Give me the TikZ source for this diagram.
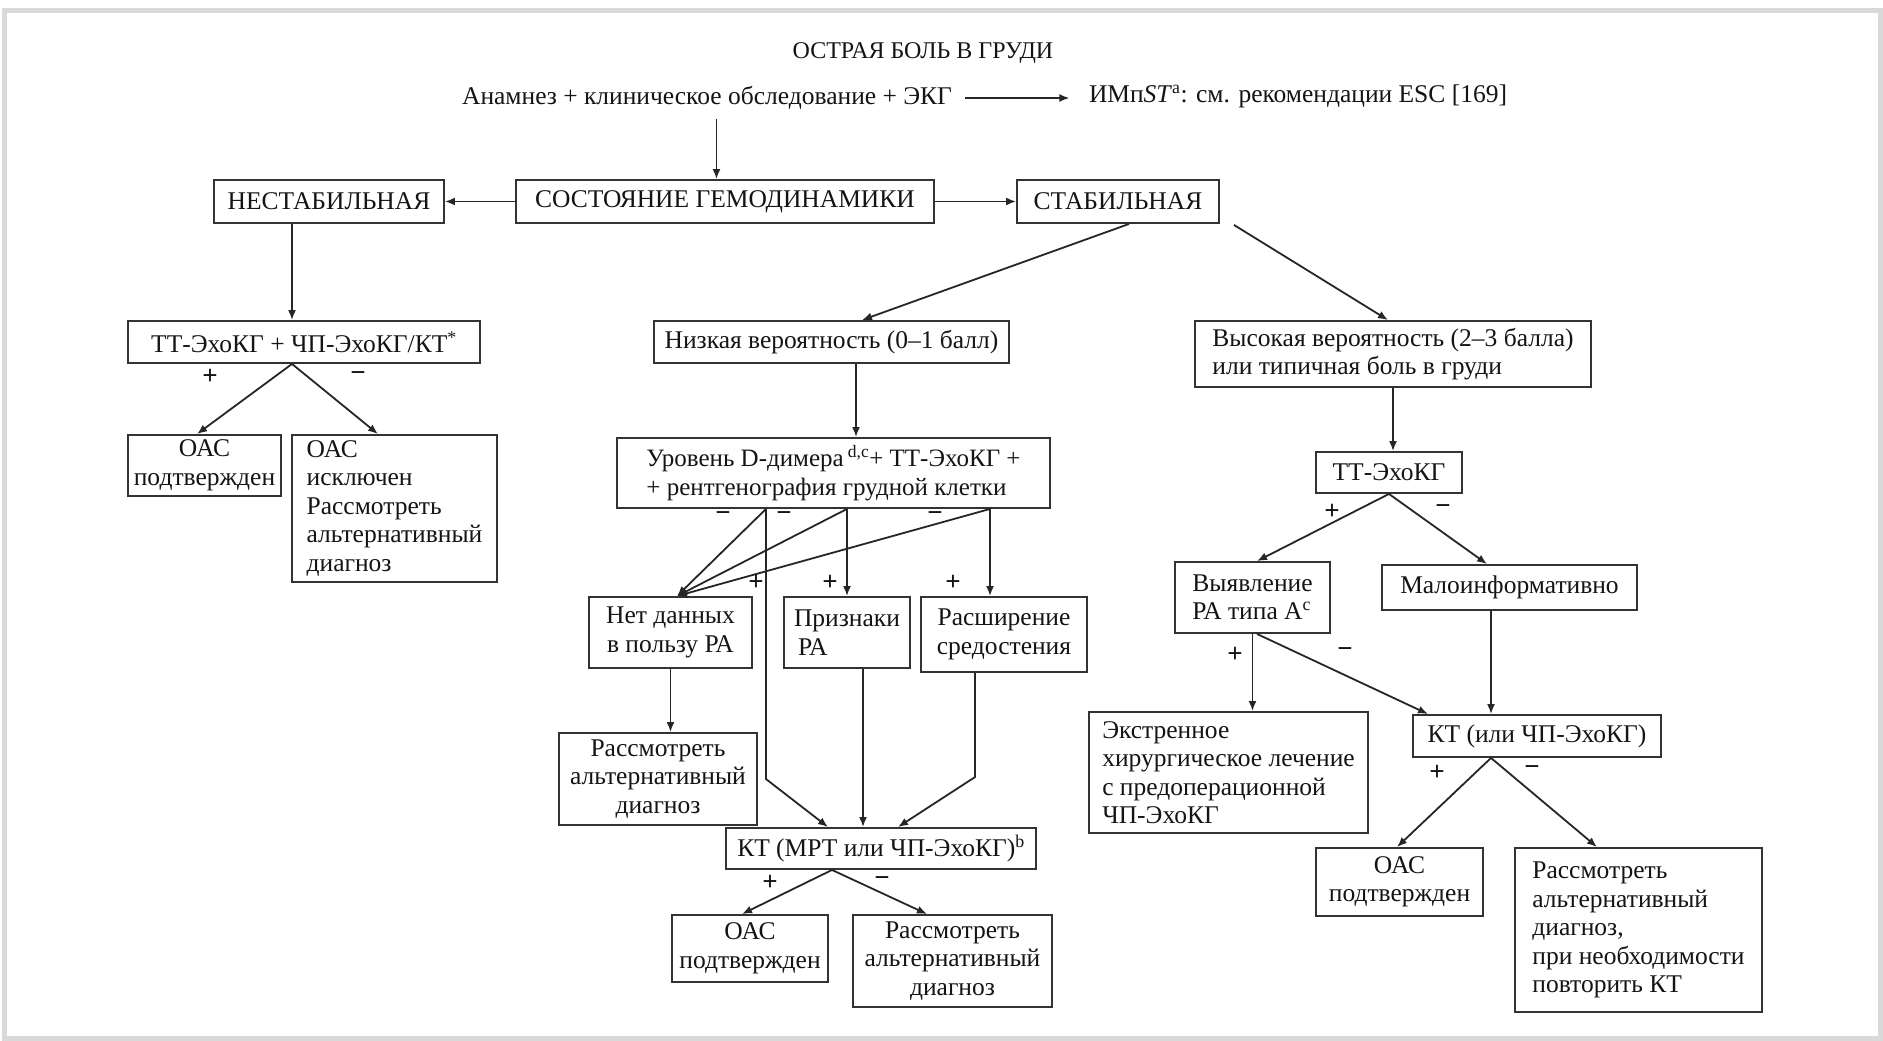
\documentclass[tikz,border=0pt]{standalone}
\usepackage{fontspec}
\setmainfont{Liberation Serif}
\usetikzlibrary{arrows.meta,calc}
\begin{document}
\begin{tikzpicture}[x=1pt,y=-1pt,
  every node/.style={font=\fontsize{25.5}{28.5}\selectfont, text=black!92},
  bx/.style={draw=black!80, line width=1.9pt, inner sep=2pt},
  ln/.style={draw=black!85, line width=1.8pt},
  arr/.style={ln, -{Latex[length=10pt,width=8pt]}},
  lab/.style={inner sep=0pt, font=\fontsize{27}{28}\selectfont\bfseries}
]
\useasboundingbox (0,0) rectangle (1883,1041);
\fill[white] (0,0) rectangle (1883,1041);
\draw[gray!30, line width=5pt] (4,11) rectangle (1880,1038);

% header
\node[font=\fontsize{24}{26}\selectfont] (title) at (923,53) {ОСТРАЯ БОЛЬ В ГРУДИ};
\node (anam) at (707,98) {Анамнез + клиническое обследование + ЭКГ};
\node (imp) at (1298,96) {ИМп\textit{ST}\textsuperscript{a}: см. рекомендации ESC [169]};

% row 1
\node[bx, minimum width=230pt, minimum height=43pt] (nest) at (329,201.5) {НЕСТАБИЛЬНАЯ};
\node[bx, minimum width=418pt, minimum height=43pt] (sost) at (725,201.5) {СОСТОЯНИЕ ГЕМОДИНАМИКИ};
\node[bx, minimum width=202pt, minimum height=43pt] (stab) at (1118,201.5) {СТАБИЛЬНАЯ};

% left column
\node[bx, minimum width=352pt, minimum height=42pt] (ttchp) at (304,342) {ТТ-ЭхоКГ + ЧП-ЭхоКГ/КТ\textsuperscript{*}};
\node[bx, minimum width=153pt, minimum height=61pt, align=center] (oacc) at (204.5,465.5) {ОАС\\подтвержден};
\node[bx, minimum width=205pt, minimum height=147pt, align=left] (oacex) at (394.5,508.5) {ОАС\\исключен\\Рассмотреть\\альтернативный\\диагноз};

% middle column
\node[bx, minimum width=355pt, minimum height=42pt] (low) at (831.5,342) {Низкая вероятность (0–1 балл)};
\node[bx, minimum width=433pt, minimum height=70pt, align=left, font=\fontsize{25}{28.5}\selectfont] (level) at (833.5,473) {Уровень D-димера\,\textsuperscript{d,c}+ ТТ-ЭхоКГ +\\+ рентгенография грудной клетки};
\node[bx, minimum width=163pt, minimum height=71pt, align=center] (net) at (670.5,632.5) {Нет данных\\в пользу РА};
\node[bx, minimum width=126pt, minimum height=71pt, align=left] (priz) at (847,632.5) {Признаки\\\hspace{4pt}РА};
\node[bx, minimum width=166pt, minimum height=75pt, align=center] (rassh) at (1004,634.5) {Расширение\\средостения};
\node[bx, minimum width=198pt, minimum height=92pt, align=center] (rass1) at (658,779) {Рассмотреть\\альтернативный\\диагноз};
\node[bx, minimum width=310pt, minimum height=41pt] (kt1) at (881,848.5) {КТ (МРТ или ЧП-ЭхоКГ)\textsuperscript{b}};
\node[bx, minimum width=156pt, minimum height=67pt, align=center] (oac2) at (750,948.5) {ОАС\\подтвержден};
\node[bx, minimum width=199pt, minimum height=92pt, align=center] (rass2) at (952.5,961) {Рассмотреть\\альтернативный\\диагноз};

% right column
\node[bx, minimum width=396pt, minimum height=66pt, align=left] (high) at (1393,354) {Высокая вероятность (2–3 балла)\\или типичная боль в груди};
\node[bx, minimum width=146pt, minimum height=41pt] (tte) at (1389,472.5) {ТТ-ЭхоКГ};
\node[bx, minimum width=155pt, minimum height=71pt, align=left] (vyav) at (1252.5,597.5) {Выявление\\РА типа А\textsuperscript{c}};
\node[bx, minimum width=255pt, minimum height=45pt] (malo) at (1509.5,587.5) {Малоинформативно};
\node[bx, minimum width=279pt, minimum height=121pt, align=left] (extr) at (1228.5,772.5) {Экстренное\\хирургическое лечение\\с предоперационной\\ЧП-ЭхоКГ};
\node[bx, minimum width=248pt, minimum height=42pt] (kt2) at (1537,736) {КТ (или ЧП-ЭхоКГ)};
\node[bx, minimum width=167pt, minimum height=68pt, align=center] (oac3) at (1399.5,882) {ОАС\\подтвержден};
\node[bx, minimum width=247pt, minimum height=164pt, align=left] (rass3) at (1638.5,930) {Рассмотреть\\альтернативный\\диагноз,\\при необходимости\\повторить КТ};

% header connectors
\coordinate (a0) at ([xshift=9.5pt,yshift=-6pt]anam.south);
\draw[arr] (a0) -- (a0 |- sost.north);
\draw[arr, shorten <=10pt, shorten >=16pt] (anam.east) -- (anam.east -| imp.west);
\draw[arr] (sost.west) -- (nest.east);
\draw[arr] (sost.east) -- (stab.west);

% left
\draw[arr] ([xshift=-37pt]nest.south) -- ([xshift=-37pt]nest.south |- ttchp.north);
\coordinate (p1) at ([xshift=-12pt]ttchp.south);
\draw[arr] (p1) -- ([xshift=-7.5pt]oacc.north);
\draw[arr] (p1) -- ([xshift=-16.5pt]oacex.north);
\node[lab] (pl1) at (210,377) {+};
\node[lab] (mi1) at (358,377) {−};

% stable branches
\draw[arr] ([xshift=11pt]stab.south) -- ([xshift=30.5pt]low.north);
\draw[arr] ([xshift=14pt,yshift=-1pt]stab.south east) -- ([xshift=-5pt]high.north);

% middle
\draw[arr] ([xshift=24.5pt]low.south) -- ([xshift=24.5pt]low.south |- level.north);
\coordinate (l1) at ([xshift=-67.5pt]level.south);
\coordinate (l2) at (priz.north |- level.south);
\coordinate (l3) at ([xshift=156.5pt]level.south);
\draw[arr] (l1) -- ([xshift=6.5pt]net.north);
\draw[arr] (l2) -- ([xshift=6.5pt]net.north);
\draw[arr] (l3) -- ([xshift=6.5pt]net.north);
\draw[arr] (l2) -- (priz.north);
\draw[arr] (l3) -- (l3 |- rassh.north);
\draw[arr] (l1) -- ($(l1 |- kt1.north)+(0,-48)$) -- ([xshift=-53pt]kt1.north);
\node[lab] (mi2) at (723,517) {−};
\node[lab] (mi3) at (784,517) {−};
\node[lab] (mi4) at (935,517) {−};
\node[lab] (pl2) at (756,583) {+};
\node[lab] (pl3) at (830,583) {+};
\node[lab] (pl4) at (953,583) {+};

\draw[arr] (net.south) -- (net.south |- rass1.north);
\draw[arr] ([xshift=16pt]priz.south) -- ([xshift=16pt]priz.south |- kt1.north);
\draw[arr] ([xshift=-29pt]rassh.south) -- ($([xshift=-29pt]rassh.south |- kt1.north)+(0,-50)$) -- ([xshift=17pt]kt1.north);
\coordinate (k1) at ([xshift=-49pt]kt1.south);
\draw[arr] (k1) -- ([xshift=-8pt]oac2.north);
\draw[arr] (k1) -- ([xshift=-25.5pt]rass2.north);
\node[lab] (pl5) at (770,883) {+};
\node[lab] (mi5) at (882,882) {−};

% right
\draw[arr] (high.south) -- (high.south |- tte.north);
\coordinate (t1) at (tte.south);
\draw[arr] (t1) -- ([xshift=4.5pt]vyav.north);
\draw[arr] (t1) -- ([xshift=-22.5pt]malo.north);
\node[lab] (pl6) at (1332,512) {+};
\node[lab] (mi6) at (1443,510) {−};
\draw[arr] (vyav.south) -- (vyav.south |- extr.north);
\draw[arr] ([xshift=4.5pt]vyav.south) -- ([xshift=-109pt]kt2.north);
\draw[arr] ([xshift=-18.5pt]malo.south) -- ([xshift=-18.5pt]malo.south |- kt2.north);
\node[lab] (pl7) at (1235,655) {+};
\node[lab] (mi7) at (1345,653) {−};
\coordinate (k2) at ([xshift=-46pt]kt2.south);
\draw[arr] (k2) -- ([xshift=-2.5pt]oac3.north);
\draw[arr] (k2) -- ([xshift=-41.5pt]rass3.north);
\node[lab] (pl8) at (1437,773) {+};
\node[lab] (mi8) at (1532,771) {−};
\end{tikzpicture}
\end{document}
